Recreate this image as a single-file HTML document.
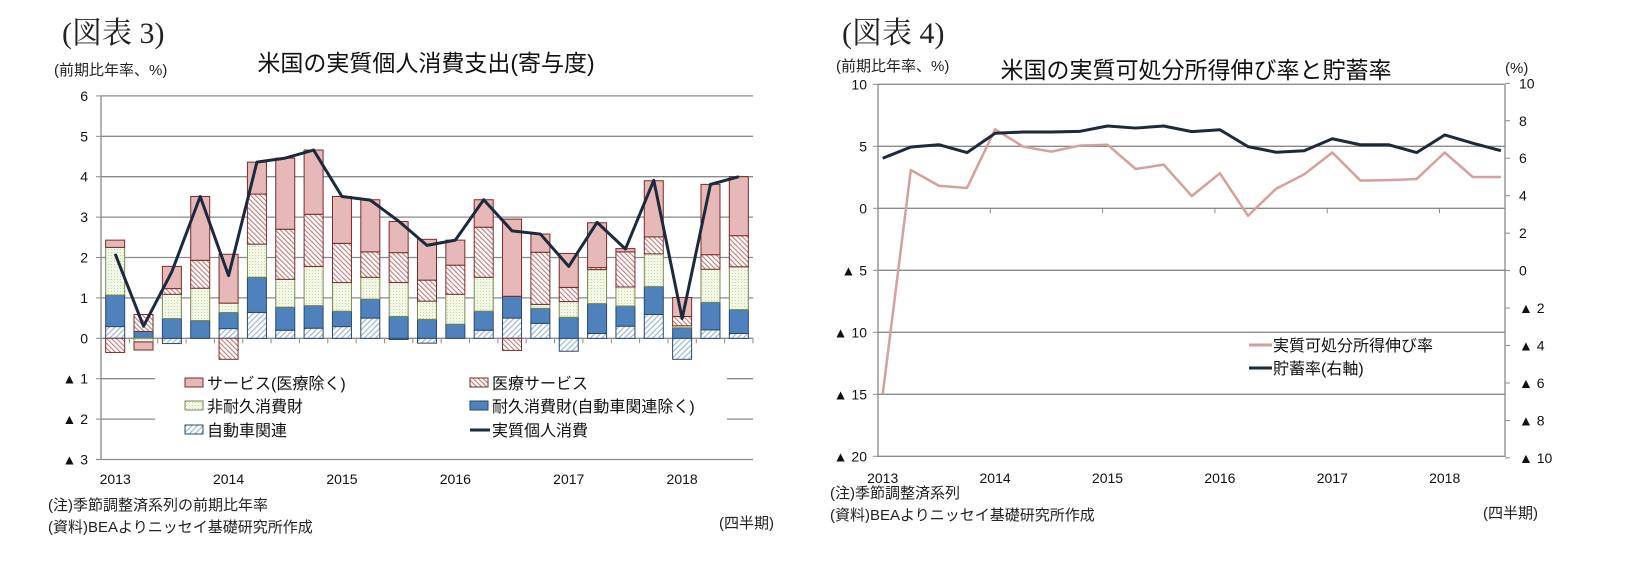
<!DOCTYPE html>
<html><head><meta charset="utf-8">
<style>
body{margin:0;background:#fff;}
svg{display:block;font-family:"Liberation Sans","Noto Sans CJK JP",sans-serif;}
.ser{font-family:"Liberation Serif","Noto Serif CJK SC",serif;}
</style></head>
<body>
<svg id="c" width="1626" height="565" viewBox="0 0 1626 565">
<defs>
<pattern id="pMed" patternUnits="userSpaceOnUse" width="3.5" height="3.5" patternTransform="rotate(-45)">
<rect width="3.5" height="3.5" fill="#fff"/><rect width="1.1" height="3.5" fill="#c07a78"/></pattern>
<pattern id="pAuto" patternUnits="userSpaceOnUse" width="4" height="4" patternTransform="rotate(45)">
<rect width="4" height="4" fill="#fff"/><rect width="1.2" height="4" fill="#9ab8d6"/></pattern>
<pattern id="pNon" patternUnits="userSpaceOnUse" width="3" height="3">
<rect width="3" height="3" fill="#f3f7e8"/><rect width="1" height="1" fill="#c4d79b"/></pattern>
</defs>
<text class="ser" x="62" y="43" font-size="30" fill="#222">(図表 3)</text>
<text class="ser" x="842" y="43" font-size="30" fill="#222">(図表 4)</text>
<text x="426" y="71" font-size="23" text-anchor="middle" fill="#111">米国の実質個人消費支出(寄与度)</text>
<text x="1196" y="78" font-size="23" text-anchor="middle" fill="#111">米国の実質可処分所得伸び率と貯蓄率</text>
<text x="54" y="75" font-size="15" fill="#222">(前期比年率、%)</text>
<text x="836" y="71" font-size="15" fill="#222">(前期比年率、%)</text>
<text x="1505" y="73" font-size="15" fill="#222">(%)</text>
<g id="left"></g>
<g id="right"></g>
<text x="48" y="510" font-size="15" fill="#222">(注)季節調整済系列の前期比年率</text>
<text x="48" y="532" font-size="15" fill="#222">(資料)BEAよりニッセイ基礎研究所作成</text>
<text x="719" y="528" font-size="15" fill="#222">(四半期)</text>
<text x="830" y="498" font-size="15" fill="#222">(注)季節調整済系列</text>
<text x="830" y="520" font-size="15" fill="#222">(資料)BEAよりニッセイ基礎研究所作成</text>
<text x="1483" y="518" font-size="15" fill="#222">(四半期)</text>
</svg>
<script>
// ---- Left chart data ----
const quarters = ["2013Q1","2013Q2","2013Q3","2013Q4","2014Q1","2014Q2","2014Q3","2014Q4","2015Q1","2015Q2","2015Q3","2015Q4","2016Q1","2016Q2","2016Q3","2016Q4","2017Q1","2017Q2","2017Q3","2017Q4","2018Q1","2018Q2","2018Q3"];
const yearLabels = ["2013","2014","2015","2016","2017","2018"];
const autoVals = [0.29,0.0,-0.13,0.0,0.24,0.64,0.2,0.25,0.29,0.5,-0.03,-0.12,0.0,0.2,0.5,0.37,-0.32,0.12,0.3,0.59,-0.52,0.21,0.12];
const durableVals = [0.78,0.17,0.49,0.44,0.4,0.87,0.57,0.56,0.38,0.47,0.54,0.47,0.35,0.47,0.54,0.37,0.52,0.74,0.5,0.69,0.26,0.68,0.59];
const nondurVals = [1.18,-0.09,0.6,0.8,0.23,0.82,0.69,0.97,0.71,0.54,0.84,0.45,0.74,0.84,0.0,0.1,0.39,0.84,0.47,0.81,0.05,0.82,1.06];
const medicalVals = [-0.35,0.42,0.14,0.69,-0.52,1.24,1.24,1.29,0.97,0.63,0.74,0.52,0.72,1.24,-0.3,1.29,0.35,0.05,0.87,0.42,0.23,0.36,0.77];
const serviceVals = [0.18,-0.2,0.55,1.58,1.21,0.79,1.76,1.59,1.16,1.29,0.77,1.01,0.62,0.68,1.91,0.45,0.84,1.11,0.08,1.39,0.47,1.74,1.46];
const totalVals = [2.09,0.3,1.65,3.51,1.55,4.36,4.46,4.66,3.51,3.42,2.9,2.3,2.43,3.43,2.66,2.58,1.78,2.87,2.21,3.91,0.49,3.81,4.0];
const leftTicks = [6,5,4,3,2,1,0,-1,-2,-3];
// ---- Right chart data ----
const incomeVals = [-15,3.09,1.82,1.64,6.37,4.97,4.57,5.05,5.13,3.17,3.52,0.99,2.82,-0.6,1.58,2.74,4.5,2.23,2.27,2.36,4.5,2.52,2.52];
const savingVals = [6.0,6.6,6.72,6.3,7.33,7.4,7.4,7.43,7.72,7.61,7.72,7.42,7.52,6.62,6.32,6.4,7.04,6.72,6.72,6.3,7.24,6.8,6.4];
const rightLeftTicks = [10,5,0,-5,-10,-15,-20];
const rightRightTicks = [10,8,6,4,2,0,-2,-4,-6,-8,-10];

const NS="http://www.w3.org/2000/svg";
function mk(parent,tag,attrs){const e=document.createElementNS(NS,tag);for(const k in attrs)e.setAttribute(k,attrs[k]);parent.appendChild(e);return e;}
function fmt(v){return v<0?"▲ "+(-v):String(v);}

// Left chart
const L=document.getElementById('left');
const lx0=101,lx1=753,ly=v=>338.3-v*40.4;
const n=quarters.length, cw=(lx1-lx0)/n;
const lxc=i=>lx0+cw*(i+0.5);
leftTicks.forEach(t=>{
  if(t!==-3){const g=mk(L,'line',{x1:lx0,x2:lx1,y1:ly(t),y2:ly(t),stroke:'#8a8a8a','stroke-width':1.3});
  
  }
  const tx=mk(L,'text',{x:88,y:ly(t)+5,'font-size':14,'text-anchor':'end',fill:'#111'});tx.textContent=fmt(t);
  
  
});
const lm=mk(L,'rect',{x:155,y:362,width:572,height:78,fill:'#fff'});


const series=[[autoVals,'url(#pAuto)','#2b4a6b','auto'],[durableVals,'#4f81bd','#2b4a6b','durable'],[nondurVals,'url(#pNon)','#7a8a50','nondurable'],[medicalVals,'url(#pMed)','#7a2a2a','medical'],[serviceVals,'#e6b9b8','#7a2a2a','services']];
for(let i=0;i<n;i++){
  let pos=0,neg=0;
  series.forEach(s=>{
    const v=s[0][i]; if(v===0)return;
    let a,b; if(v>0){a=pos;b=pos+v;pos=b;}else{a=neg;b=neg+v;neg=b;}
    const r=mk(L,'rect',{x:lxc(i)-9.5,width:19,y:ly(Math.max(a,b)),height:Math.abs(ly(a)-ly(b)),fill:s[1],stroke:s[2],'stroke-width':1});
    
    
  });
}
const ax=mk(L,'line',{x1:lx0,x2:lx0,y1:ly(6),y2:ly(-3),stroke:'#8a8a8a','stroke-width':1.3});


const bx=mk(L,'line',{x1:lx0-5,x2:lx1,y1:ly(-3),y2:ly(-3),stroke:'#8a8a8a','stroke-width':1.3});


leftTicks.forEach(t=>{mk(L,'line',{x1:lx0-5,x2:lx0,y1:ly(t),y2:ly(t),stroke:'#8a8a8a'});});
for(let i=0;i<=n;i++){mk(L,'line',{x1:lx0+cw*i,x2:lx0+cw*i,y1:ly(0),y2:ly(0)+5,stroke:'#8a8a8a'});}
const tl=mk(L,'polyline',{points:totalVals.map((v,i)=>lxc(i)+','+ly(v)).join(' '),fill:'none',stroke:'#1c2a3e','stroke-width':3,'stroke-linejoin':'round'});


yearLabels.forEach((y,k)=>{const t=mk(L,'text',{x:lxc(k*4),y:484,'font-size':14,'text-anchor':'middle',fill:'#111'});t.textContent=y;
  
  });
const legL=[[185,383,'#e6b9b8','#7a2a2a','サービス(医療除く)','rect'],[470,383,'url(#pMed)','#7a2a2a','医療サービス','rect'],[185,406,'url(#pNon)','#7a8a50','非耐久消費財','rect'],[470,406,'#4f81bd','#2b4a6b','耐久消費財(自動車関連除く)','rect'],[185,430,'url(#pAuto)','#2b4a6b','自動車関連','rect'],[470,430,'#1c2a3e','#1c2a3e','実質個人消費','line']];
legL.forEach(l=>{
  const g=mk(L,'g',{});
  
  
  if(l[5]==='rect')mk(g,'rect',{x:l[0],y:l[1]-5,width:18,height:9,fill:l[2],stroke:l[3]});
  else mk(g,'line',{x1:l[0],x2:l[0]+20,y1:l[1],y2:l[1],stroke:l[2],'stroke-width':3});
  const t=mk(g,'text',{x:l[0]+22,y:l[1]+6,'font-size':16,fill:'#111'});t.textContent=l[4];
});

// Right chart
const R=document.getElementById('right');
const rx0=878,rx1=1505,ryl=v=>208.3-v*12.4,ryr=v=>270.6-v*18.73;
const rxp=i=>882.7+28.1*i;
rightLeftTicks.forEach(t=>{
  if(t!==-20){const g=mk(R,'line',{x1:rx0,x2:rx1,y1:ryl(t),y2:ryl(t),stroke:'#8a8a8a','stroke-width':1.3});
  
  }
  mk(R,'line',{x1:rx0-5,x2:rx0,y1:ryl(t),y2:ryl(t),stroke:'#8a8a8a'});
  const tx=mk(R,'text',{x:867,y:ryl(t)+5,'font-size':14,'text-anchor':'end',fill:'#111'});tx.textContent=fmt(t);
  
  
});
rightRightTicks.forEach(t=>{
  mk(R,'line',{x1:rx1,x2:rx1+5,y1:ryr(t),y2:ryr(t),stroke:'#8a8a8a'});
  const tx=mk(R,'text',{x:1519,y:ryr(t)+5,'font-size':14,fill:'#111'});tx.textContent=fmt(t);
  
  
});
const ra=mk(R,'path',{d:`M${rx0},${ryl(10)}V${ryl(-20)}H${rx1}V${ryl(10)}`,fill:'none',stroke:'#8a8a8a','stroke-width':1.3});


for(let k=0;k<=5;k++){const x=rx0+112.3*k;mk(R,'line',{x1:x,x2:x,y1:ryl(0),y2:ryl(0)+5,stroke:'#8a8a8a'});}
yearLabels.forEach((y,k)=>{const t=mk(R,'text',{x:rxp(k*4),y:483,'font-size':14,'text-anchor':'middle',fill:'#111'});t.textContent=y;
  
  });
const li=mk(R,'polyline',{points:incomeVals.map((v,i)=>rxp(i)+','+ryl(v)).join(' '),fill:'none',stroke:'#d59f9c','stroke-width':2.5,'stroke-linejoin':'round'});


const ls=mk(R,'polyline',{points:savingVals.map((v,i)=>rxp(i)+','+ryr(v)).join(' '),fill:'none',stroke:'#1c2a3a','stroke-width':3,'stroke-linejoin':'round'});


[[345,'#d59f9c','実質可処分所得伸び率'],[368,'#1c2a3a','貯蓄率(右軸)']].forEach(l=>{
  const g=mk(R,'g',{});
  
  
  mk(g,'line',{x1:1249,x2:1272,y1:l[0],y2:l[0],stroke:l[1],'stroke-width':3});
  const t=mk(g,'text',{x:1273,y:l[0]+6,'font-size':16,fill:'#111'});t.textContent=l[2];
});
</script>
</body></html>
